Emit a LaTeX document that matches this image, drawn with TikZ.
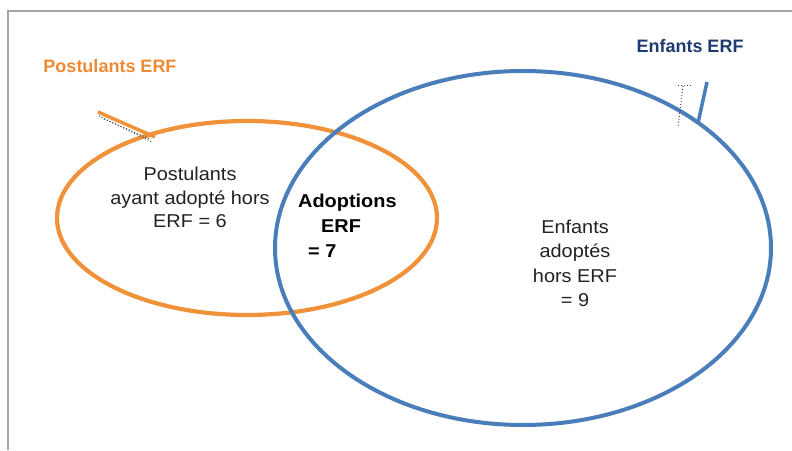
\documentclass[tikz,border=0pt]{standalone}
\usepackage{fontspec}
\setmainfont{Liberation Sans}
\newfontfamily\widefont[FakeStretch=1.07]{Liberation Sans}
\definecolor{orng}{HTML}{F0923A}
\definecolor{orngtxt}{HTML}{EE8A32}
\definecolor{blu}{HTML}{4A7EBB}
\definecolor{navy}{HTML}{1F3A6E}
\definecolor{txt}{HTML}{222222}
\begin{document}
\begin{tikzpicture}[x=1pt,y=1pt,
  lbl/.style={font=\widefont\fontsize{18.6}{23.5}\selectfont, text=txt, align=center, inner sep=0pt},
  blbl/.style={font=\widefont\bfseries\fontsize{18.6}{25}\selectfont, text=black, inner sep=0pt, anchor=base west},
  ttl/.style={font=\bfseries\fontsize{18}{21}\selectfont, inner sep=0pt, anchor=base},
  frame/.style={draw=gray!70, line width=1.2pt},
  shadow/.style={draw=black!70, dotted, line width=1pt}]
\useasboundingbox (0,0) rectangle (792,450);
\fill[white] (0,0) rectangle (792,450);
\draw[frame] (8,0) -- (8,439) -- (792,439);
% ellipses
\draw[orng, line width=4.2pt] (247,232) ellipse [x radius=190, y radius=97];
\draw[blu, line width=4pt] (523,202) ellipse [x radius=248, y radius=177];
% titles
\node[ttl, text=orngtxt] (tp) at (110,377) {Postulants ERF};
\node[ttl, text=navy] (te) at (690,397.5) {Enfants ERF};
% pointer lines
\coordinate (po1) at (98,338);
\coordinate (po2) at (155,313);
\draw[orng, line width=3.5pt] (po1) -- (po2);
\draw[shadow] (99,334) -- (152,308);
\draw[shadow] (104,331) -- (150,311);
\coordinate (pb1) at (707,368);
\coordinate (pb2) at (698,327);
\draw[blu, line width=3.5pt] (pb1) -- (pb2);
\draw[shadow] (683,364) -- (678,323);
\draw[shadow] (678,364) -- (691,364);
% labels
\node[lbl, anchor=base] (l1) at (190,222) {Postulants\\ayant adopté hors\\ERF = 6};
\node[blbl] (l2a) at (298,242) {Adoptions};
\node[blbl] (l2b) at (321,217) {ERF};
\node[blbl] (l2c) at (308,192) {= 7};
\node[lbl, anchor=base, font=\widefont\fontsize{18.6}{24.5}\selectfont] (l3) at (575,143) {Enfants\\adoptés\\hors ERF\\= 9};
\end{tikzpicture}
\end{document}
